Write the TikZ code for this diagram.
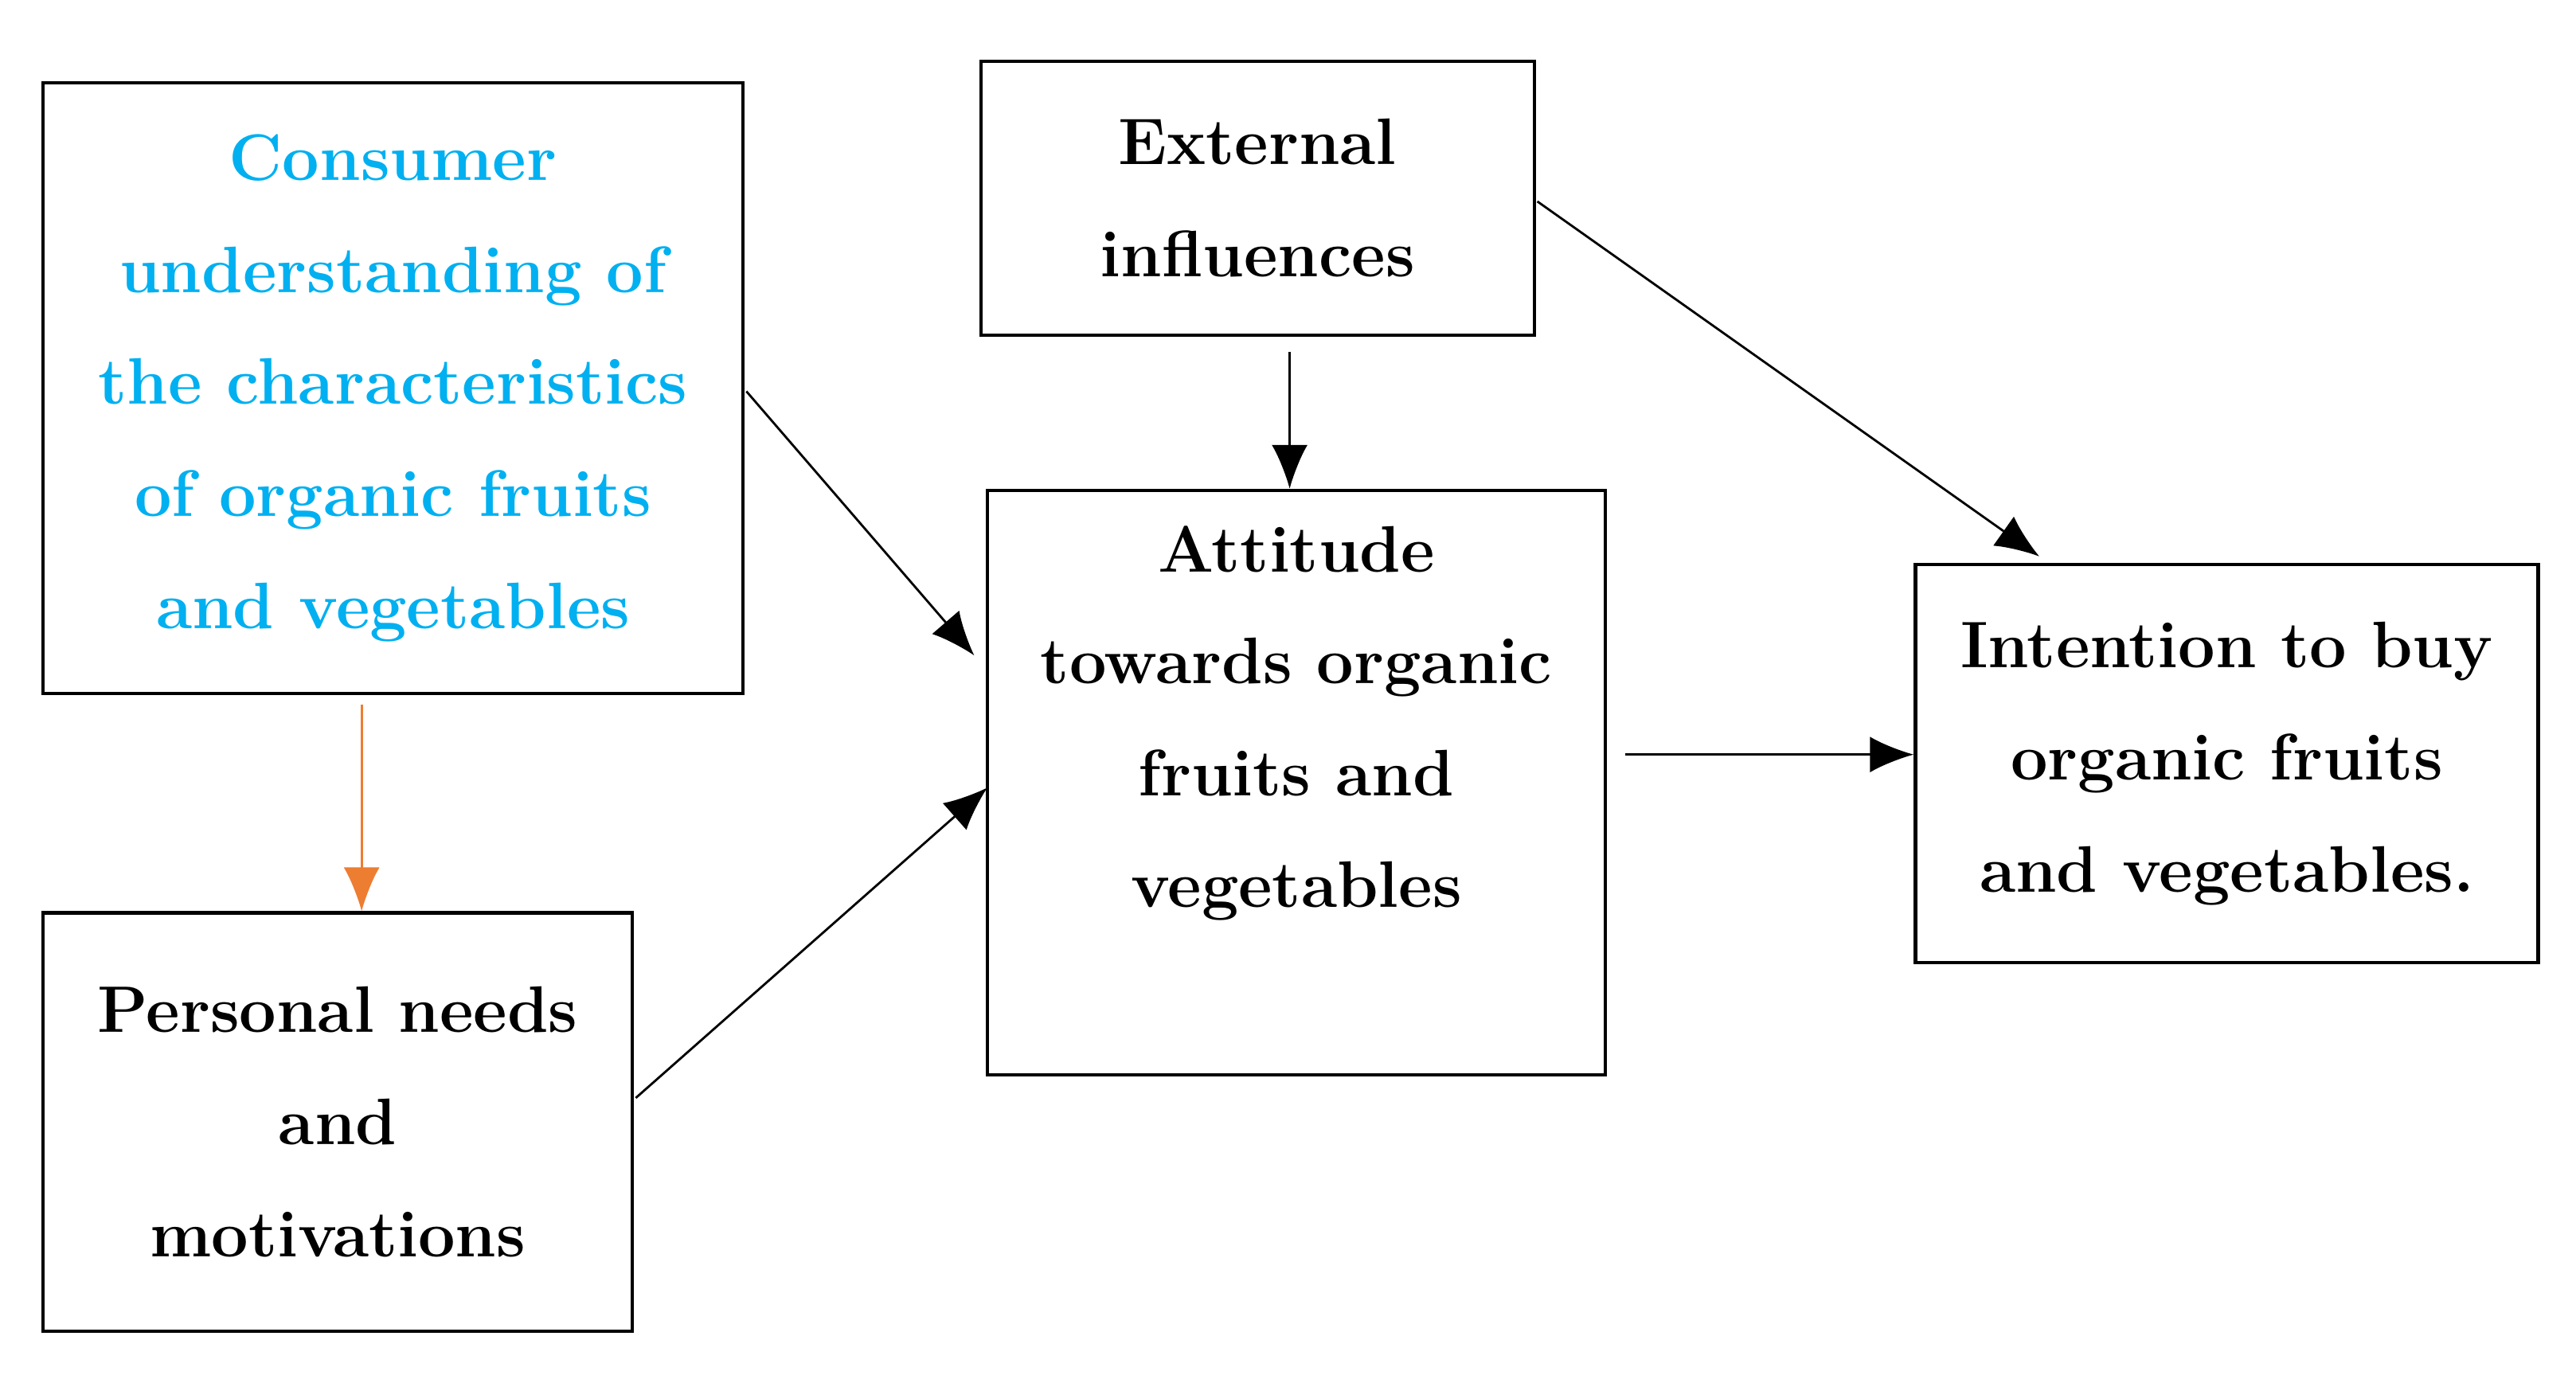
\documentclass[tikz,border=0pt]{standalone}
\usepackage{tikz}
\usetikzlibrary{arrows.meta}
\definecolor{consblue}{RGB}{0,176,240}
\definecolor{consorange}{RGB}{237,125,49}
\tikzset{
	box/.style={draw,line width=1.2pt,align=center,font=\fontsize{23.5}{40}\selectfont\bfseries},
	link/.style={->,line width=0.8pt}
}
\begin{document}
\begin{tikzpicture}[x=0.02074cm,y=-0.02074cm,>/.tip={Latex[length=5.5mm,width=4.5mm]}]
	\useasboundingbox (0,0) rectangle (1560,835);
	\draw (238,235) node (cons) [box,minimum width=8.79cm,minimum height=7.67cm,text=consblue] {Consumer\\understanding of\\the characteristics\\of organic fruits\\and vegetables};
	\draw (761.5,120) node (ext) [box,minimum width=6.95cm,minimum height=3.44cm] {External\\influences};
	\draw (785,474) node (att) [box,minimum width=7.76cm,minimum height=7.34cm] {Attitude\\towards organic\\fruits and\\vegetables\\[0.25cm]};
	\draw (1348.5,462.5) node (int) [box,minimum width=7.82cm,minimum height=5cm] {Intention to buy\\organic fruits\\and vegetables.};
	\draw (204.5,679.5) node (pers) [box,minimum width=7.4cm,minimum height=5.25cm] {Personal needs\\and\\motivations};
	
	\coordinate (c1) at (452,237);
	\coordinate (c2) at (219,427);
	\coordinate (p1) at (385,665);
	\coordinate (e1) at (781,213);
	\coordinate (e2) at (931,122);
	\coordinate (a1) at (984,457);
	
	\draw[link] (c1) -- (590,397);
	\draw[link] (p1) -- (598,477);
	\draw[link] (e1) -- (att.north -| e1);
	\draw[link] (e2) -- (1235,337);
	\draw[link] (a1) -- (int.west |- a1);
	\draw[link,draw=consorange,-{Latex[length=5.5mm,width=4.5mm,fill=consorange]}] (c2) -- (pers.north -| c2);
\end{tikzpicture}
\end{document}
